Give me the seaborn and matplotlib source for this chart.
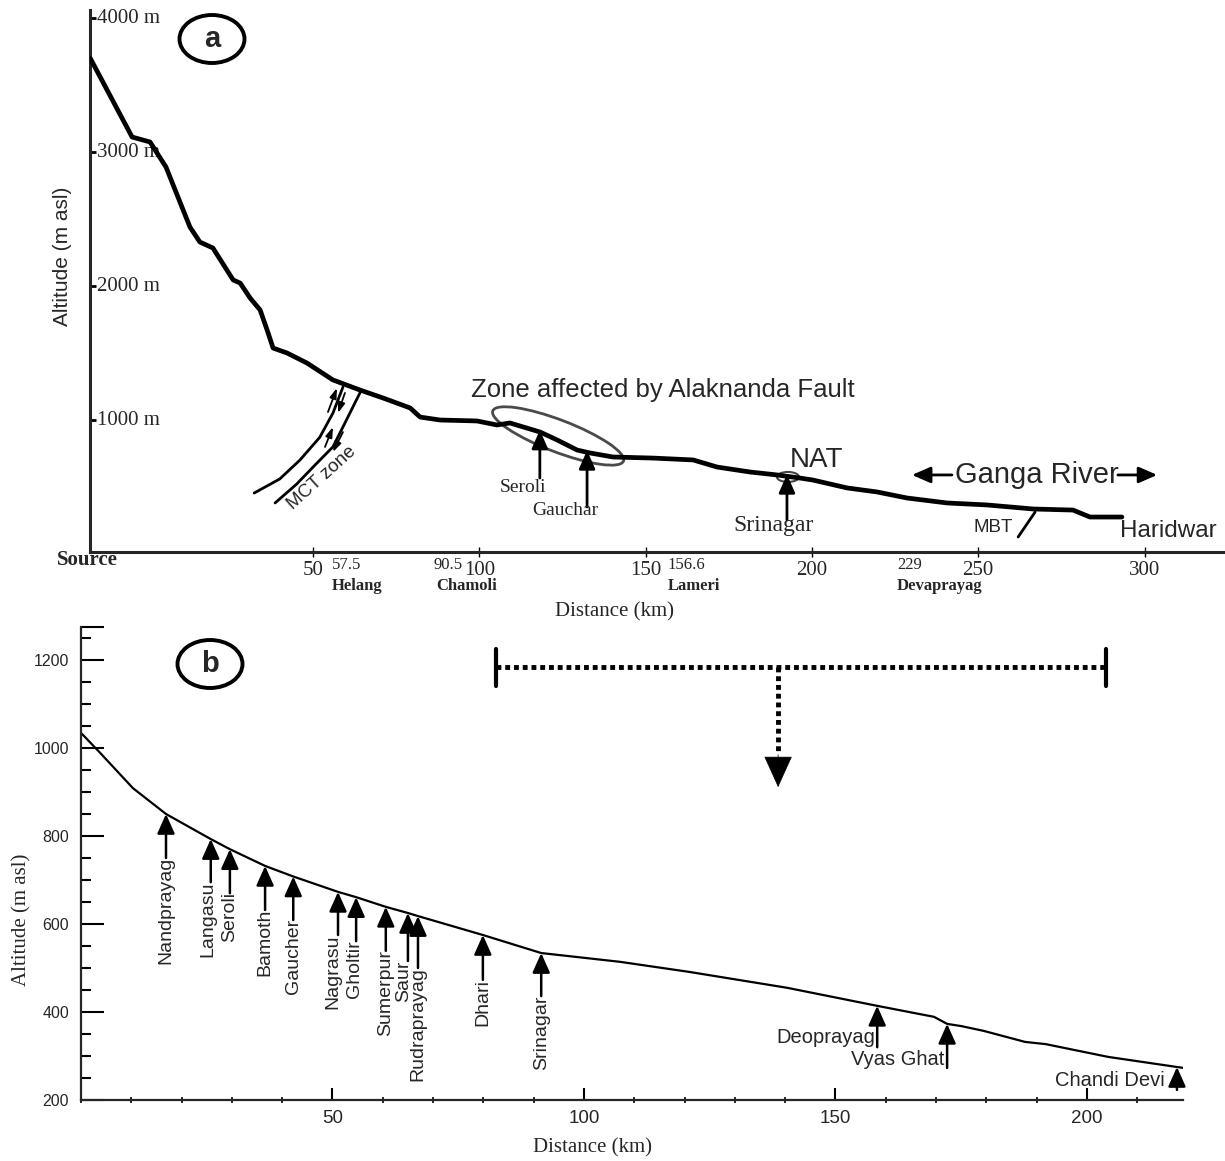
import matplotlib.pyplot as plt
import matplotlib.transforms as mtransforms
import matplotlib.ticker as mticker
from matplotlib.patches import Ellipse
import seaborn as sns
import numpy as np

sns.set_style("white")
plt.rcParams["font.family"] = ["Liberation Sans", "DejaVu Sans"]
SERIF = ["Liberation Serif", "DejaVu Serif"]

# ----------------------------
# Panel a: Alaknanda / Ganga long profile (source to Haridwar)
# ----------------------------
a_km = [-17.0, -4.4, 1.0, 5.8, 13.0, 16.0, 19.9, 26.0, 28.1, 31.1, 34.1, 36.2,
        38.0, 42.2, 48.2, 56.0, 64.1, 71.1, 79.2, 82.2, 88.2, 99.3, 105.3,
        109.2, 118.3, 123.4, 129.4, 133.3, 140.2, 152.2, 164.3, 171.5, 181.4,
        189.5, 196.4, 200.3, 210.6, 219.6, 228.6, 240.6, 252.7, 266.5, 278.5,
        283.6, 293.2]
a_alt = [3701, 3112, 3075, 2888, 2440, 2328, 2284, 2045, 2022, 1910, 1821, 1672,
         1537, 1500, 1425, 1299, 1224, 1164, 1090, 1022, 1000, 993, 963, 978,
         910, 851, 776, 754, 724, 716, 702, 649, 612, 590, 567, 552, 493, 463,
         418, 381, 366, 336, 328, 276, 276]
a_xticks = [50, 100, 150, 200, 250, 300]
a_yticks = [1000, 2000, 3000, 4000]
a_place_names = ["Helang", "Chamoli", "Lameri", "Devaprayag"]
a_place_dist = ["57.5", "90.5", "156.6", "229"]

a_sites = ["Seroli", "Gauchar", "Srinagar"]
a_site_km = [118.2, 132.4, 192.5]

# ----------------------------
# Panel b: Nandprayag to Chandi Devi
# ----------------------------
b_km = [0.2, 3.8, 10.3, 16.9, 25.8, 29.6, 36.6, 42.2, 51.1, 54.7, 60.6, 65.0,
        67.0, 79.9, 91.5, 107.2, 121.0, 140.4, 158.3, 169.6, 172.2, 175.0,
        179.5, 187.7, 191.8, 204.2, 219.1]
b_alt = [1032, 989, 909, 850, 793, 770, 732, 708, 673, 661, 639, 625, 618, 575,
         534, 514, 491, 455, 414, 389, 373, 368, 357, 332, 327, 298, 273]

b_vsites = ["Nandprayag", "Langasu", "Seroli", "Bamoth", "Gaucher", "Nagrasu",
            "Gholtir", "Sumerpur", "Saur", "Rudraprayag", "Dhari", "Srinagar"]
b_vsite_km = [16.9, 25.8, 29.6, 36.6, 42.2, 51.1, 54.7, 60.6, 65.0, 67.0, 79.9, 91.5]

b_hsites = ["Deoprayag", "Vyas Ghat", "Chandi Devi"]
b_hsite_km = [158.3, 172.2, 217.9]

b_xticks = [50, 100, 150, 200]
b_yticks = [200, 400, 600, 800, 1000, 1200]

# label layout (where each arrow starts / text sits)
a_place_x = [55.7, 87.0, 156.7, 225.6]
a_dist_x = [55.7, 95.0, 156.7, 225.6]
a_dist_ha = ["left", "right", "left", "left"]
a_site_base = [567, 351, 254]
a_site_text = [(113.1, 500, 14), (125.8, 321, 14), (188.6, 216, 17)]
b_vsite_base = [750, 695, 670, 632, 609, 575, 561, 539, 516, 500, 473, 436]
b_vsite_dx = [0, -0.6, 0, 0, 0, -1.0, -0.4, 0, -0.9, 0, 0, 0]
b_hsite_base = [320, 273, 223]
b_hsite_text = [(157.9, 343), (171.6, 291), (215.4, 245)]

W, H = 1225, 1161
fig = plt.figure(figsize=(W / 100, H / 100), dpi=100)


def ellipse_px(ax, x, y, w, h, angle=0, **kw):
    # ellipse sized in pixels, anchored on a data point
    tr = fig.dpi_scale_trans + mtransforms.ScaledTranslation(x, y, ax.transData)
    ax.add_patch(Ellipse((0, 0), w / 100, h / 100, angle=angle, transform=tr,
                         fill=False, clip_on=False, **kw))


def arrow(ax, x0, y0, x1, y1, lw=2, hl=0.7, hw=0.3, ms=15):
    ax.annotate("", xy=(x1, y1), xytext=(x0, y0),
                arrowprops=dict(arrowstyle=f"-|>,head_length={hl},head_width={hw}",
                                lw=lw, color="black", mutation_scale=ms,
                                shrinkA=0, shrinkB=0))


# ============ panel a ============
axa = fig.add_axes([90 / W, 1 - 552 / H, 1135 / W, 542 / H])
sns.lineplot(x=a_km, y=a_alt, ax=axa, color="black", lw=3.4, estimator=None,
             zorder=5)
axa.set_xlim(-17.05, 324.2)
axa.set_ylim(15, 4060)
sns.despine(ax=axa)
for s in ["left", "bottom"]:
    axa.spines[s].set_linewidth(2.2)
axa.set_xticks(a_xticks)
axa.set_xticklabels([str(t) for t in a_xticks], fontfamily=SERIF, fontsize=15)
axa.tick_params(axis="x", bottom=True, direction="inout", length=7, width=1,
                pad=3, color="black")
axa.set_yticks(a_yticks)
axa.tick_params(axis="y", left=True, direction="in", length=4, width=2,
                labelleft=False, color="black")
for v in a_yticks:
    axa.annotate(f"{v} m", xy=(0, v), xycoords=("axes fraction", "data"),
                 xytext=(5, 0), textcoords="offset points", va="center",
                 ha="left", fontfamily=SERIF, fontsize=15, zorder=1)

axa.set_ylabel("Altitude (m asl)", fontsize=15)
axa.yaxis.label.set_va("center")
axa.yaxis.set_label_coords(-0.024, 0.546)
axa.set_xlabel("Distance (km)", fontfamily=SERIF, fontsize=15)
axa.xaxis.label.set_va("center")
axa.xaxis.set_label_coords(0.4617, -0.111)

axa.text(-17.9, -45, "Source", fontfamily=SERIF, fontweight="bold",
         fontsize=15, ha="center", va="center")
for x, xd, ha, d, n in zip(a_place_x, a_dist_x, a_dist_ha, a_place_dist, a_place_names):
    axa.text(xd, -85, d, fontfamily=SERIF, fontsize=12, ha=ha, va="center")
    axa.text(x, -240, n, fontfamily=SERIF, fontsize=12, fontweight="bold",
             ha="left", va="center")

# MCT zone
axa.plot([32.3, 40.0, 46.1, 52.0, 56.0, 59.0], [455, 560, 702, 870, 1052, 1246],
         color="black", lw=2)
axa.plot([38.6, 45.0, 51.2, 56.0, 59.0, 64.1], [381, 520, 679, 800, 948, 1202],
         color="black", lw=2)
for x0, y0, x1, y1 in [(54.5, 1060, 57.2, 1239), (59.6, 1202, 57.5, 1052),
                       (53.6, 799, 56.0, 948), (59.0, 910, 56.0, 761)]:
    arrow(axa, x0, y0, x1, y1, lw=1.3, hl=0.6, hw=0.2, ms=10)
axa.text(52.7, 567, "MCT zone", rotation=42, fontsize=13.5, ha="center",
         va="center")

# Alaknanda fault zone
axa.text(155.2, 1224, "Zone affected by Alaknanda Fault", fontsize=18.5,
         ha="center", va="center")
ellipse_px(axa, 123.7, 881, 140, 32, angle=-21, color="#4a4a4a", lw=2)

# site arrows
for km, base, (tx, ty, fs), name in zip(a_site_km, a_site_base, a_site_text, a_sites):
    tip = np.interp(km, a_km, a_alt)
    arrow(axa, km, base, km, tip + 15, lw=2, hl=0.8, hw=0.35, ms=14)
    axa.text(tx, ty, name, fontfamily=SERIF, fontsize=fs, ha="center", va="center")

ellipse_px(axa, 192.8, 575, 22, 10, color="#444444", lw=1.5)
axa.text(201.5, 702, "NAT", fontsize=20, ha="center", va="center")

axa.text(267.7, 590, "Ganga River", fontsize=21, ha="center", va="center")
arrow(axa, 242.1, 590, 230.1, 590, lw=2, hl=0.8, hw=0.35, ms=14)
arrow(axa, 292.0, 590, 303.8, 590, lw=2, hl=0.8, hw=0.35, ms=14)

axa.plot([262.0, 267.1], [127, 313], color="black", lw=2)
axa.text(254.4, 201, "MBT", fontsize=13.5, ha="center", va="center")
axa.text(307.1, 172, "Haridwar", fontsize=17.5, ha="center", va="center")

# ============ panel b ============
axb = fig.add_axes([81 / W, 1 - 1100 / H, 1102 / W, 473 / H])
sns.lineplot(x=b_km, y=b_alt, ax=axb, color="black", lw=1.6, estimator=None)
axb.set_xlim(0, 219.1)
axb.set_ylim(200, 1275)
sns.despine(ax=axb)
for s in ["left", "bottom"]:
    axb.spines[s].set_linewidth(1.6)

axb.set_xticks(b_xticks)
axb.set_xticklabels([str(t) for t in b_xticks], fontsize=13.5)
axb.xaxis.set_minor_locator(mticker.MultipleLocator(10))
axb.tick_params(axis="x", which="both", bottom=True, color="black")
axb.tick_params(axis="x", which="major", direction="in", length=8.5, width=1.5, pad=7)
axb.tick_params(axis="x", which="minor", direction="inout", length=4.5, width=1.2)
axb.set_yticks(b_yticks + [1275])
axb.set_yticklabels([str(t) for t in b_yticks] + [""], fontsize=11.5)
axb.yaxis.set_minor_locator(mticker.MultipleLocator(50))
axb.tick_params(axis="y", which="both", left=True, color="black")
axb.tick_params(axis="y", which="major", direction="in", length=16.5, width=1.5, pad=8.5)
axb.tick_params(axis="y", which="minor", direction="in", length=7, width=1.5)

axb.set_ylabel("Altitude (m asl)", fontfamily=SERIF, fontsize=15)
axb.yaxis.label.set_va("center")
axb.yaxis.set_label_coords(-0.0535, 0.38)
axb.set_xlabel("Distance (km)", fontfamily=SERIF, fontsize=15)
axb.xaxis.label.set_va("center")
axb.xaxis.set_label_coords(0.4646, -0.1015)

for name, km, base, dx in zip(b_vsites, b_vsite_km, b_vsite_base, b_vsite_dx):
    tip = np.interp(km, b_km, b_alt)
    arrow(axb, km, base, km, tip, lw=1.8, hl=0.85, hw=0.38, ms=14)
    axb.text(km + dx, base + 2, name, rotation=90, fontsize=14, ha="center", va="top")

for name, km, base, (tx, ty) in zip(b_hsites, b_hsite_km, b_hsite_base, b_hsite_text):
    tip = np.interp(km, b_km, b_alt)
    arrow(axb, km, base, km, tip, lw=1.8, hl=0.85, hw=0.38, ms=14)
    axb.text(tx, ty, name, fontsize=14.5, ha="right", va="center")

# bracket marking the reach
axb.plot([82.5, 203.8], [1184, 1184], color="black", lw=3.5, ls=(0, (1, 0.8)))
axb.plot([82.5, 82.5], [1141, 1225], color="black", lw=3)
axb.plot([203.8, 203.8], [1141, 1225], color="black", lw=3)
axb.plot([138.6, 138.6], [1184, 990], color="black", lw=3.5, ls=(0, (1, 0.8)))
axb.annotate("", xy=(138.6, 911), xytext=(138.6, 985),
             arrowprops=dict(arrowstyle="-|>,head_length=2.1,head_width=0.95",
                             lw=0.5, color="black", mutation_scale=10,
                             shrinkA=0, shrinkB=0))

# panel letters
for cx, cy, letter in [(212, 39, "a"), (210, 664, "b")]:
    fig.add_artist(Ellipse((cx / W, 1 - cy / H), 65 / W, 48 / H,
                           transform=fig.transFigure, fill=False, lw=2.8,
                           color="black"))
    fig.text(cx / W, 1 - cy / H, letter, fontsize=21, fontweight="bold",
             ha="center", va="center")

fig.savefig("out.png", dpi=100)
